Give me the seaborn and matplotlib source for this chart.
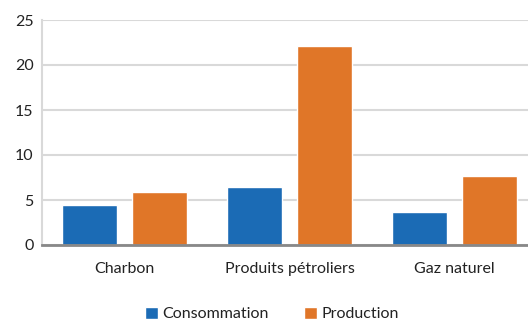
import matplotlib
matplotlib.use("Agg")
import matplotlib.pyplot as plt
import seaborn as sns
import pandas as pd

categories = ["Charbon", "Produits pétroliers", "Gaz naturel"]
series = ["Consommation", "Production"]
consommation = [4.4, 6.5, 3.7]
production = [5.9, 22.1, 7.7]
colors = ["#1b6bb5", "#e07628"]
yticks = [0, 5, 10, 15, 20, 25]

df = pd.DataFrame({
    "cat": categories * 2,
    "serie": [series[0]] * 3 + [series[1]] * 3,
    "val": consommation + production,
})

sns.set_theme(style="white")
plt.rcParams["font.family"] = ["Lato", "DejaVu Sans"]

fig = plt.figure(figsize=(5.28, 3.22), dpi=100)
ax = fig.add_axes([42 / 528, 1 - 245 / 322, 495 / 528, 225 / 322])
sns.barplot(data=df, x="cat", y="val", hue="serie", order=categories,
            hue_order=series, palette=colors, width=0.848, gap=0.214,
            saturation=1, ax=ax, legend=True)
ax.set_xlim(-0.5, 2.5)
ax.set_ylim(0, 25)
ax.set_yticks(yticks)
ax.yaxis.grid(True, color="#d9d9d9", linewidth=1.5)
ax.set_axisbelow(True)
ax.set_xlabel("")
ax.set_ylabel("")
for s in ["top", "right"]:
    ax.spines[s].set_visible(False)
ax.spines["left"].set_color("#d9d9d9")
ax.spines["left"].set_linewidth(1.5)
ax.spines["bottom"].set_color("#888888")
ax.spines["bottom"].set_linewidth(2)
ax.tick_params(axis="both", length=0, labelsize=11.5, colors="#222222")
ax.tick_params(axis="y", pad=6)
ax.tick_params(axis="x", pad=12)

h, l = ax.get_legend_handles_labels()
ax.get_legend().remove()
fig.legend(h, l, loc="center", bbox_to_anchor=(272 / 528, 1 - 314 / 322),
           ncol=2, frameon=False, fontsize=11.5, handlelength=0.8,
           handleheight=0.8, handletextpad=0.3, columnspacing=2.2,
           labelcolor="#222222")

fig.savefig("out.png", dpi=100)
